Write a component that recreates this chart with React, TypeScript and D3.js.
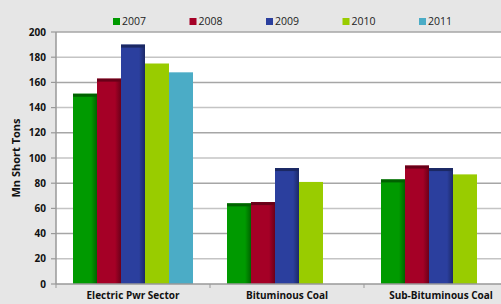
import * as d3 from "d3";

const categories = ["Electric Pwr Sector", "Bituminous Coal", "Sub-Bituminous Coal"];
const years = ["2007", "2008", "2009", "2010", "2011"];
const colors = ["#009a00", "#a50026", "#2b3f9e", "#99cc00", "#4bacc6"];
const shaded = [true, true, true, false, false];

// values per year, one entry per category (null = no bar)
const v2007 = [151, 64, 83];
const v2008 = [163, 65, 94];
const v2009 = [190, 92, 92];
const v2010 = [175, 81, 87];
const v2011 = [168, null, null];
const series = [v2007, v2008, v2009, v2010, v2011];

const yTicks = [0, 20, 40, 60, 80, 100, 120, 140, 160, 180, 200];

export default function App() {
  const width = 501;
  const height = 304;
  const marginLeft = 56;
  const marginTop = 32;
  const plotBottom = 284;
  const bandW = 154;

  const x = d3.scaleBand()
    .domain(categories)
    .range([marginLeft, marginLeft + bandW * categories.length])
    .paddingInner(0)
    .paddingOuter(0);

  const inner = d3.scaleBand()
    .domain(years)
    .range([17, bandW - 17]);

  const y = d3.scaleLinear().domain([0, 200]).range([plotBottom, marginTop]);

  const font = "'Open Sans', 'Liberation Sans', sans-serif";

  return (
    <svg width={width} height={height} style={{ position: "absolute", left: 0, top: 0 }}>
      <defs>
        {colors.map((c, i) => (
          <linearGradient key={i} id={`g${i}`} x1="0" x2="1" y1="0" y2="0">
            <stop offset="0" stopColor={c} />
            <stop offset={shaded[i] ? "0.75" : "1"} stopColor={c} />
            <stop offset="1" stopColor={shaded[i] ? d3.color(c)!.darker(1.2).toString() : c} />
          </linearGradient>
        ))}
      </defs>
      <rect x={0} y={0} width={width} height={height} fill="#e6e6e6" />
      <rect x={marginLeft} y={marginTop} width={width - marginLeft} height={plotBottom - marginTop} fill="#ffffff" />

      {/* gridlines */}
      {yTicks.filter(t => t > 0).map(t => (
        <line key={t} x1={marginLeft} x2={width} y1={y(t)} y2={y(t)}
          stroke={t % 40 === 0 ? "#a6a6a6" : "#c4c4c4"} strokeWidth={1.5} />
      ))}

      {/* bars */}
      {series.map((vals, si) =>
        vals.map((v, ci) => {
          if (v == null) return null;
          const bx = x(categories[ci])! + inner(years[si])!;
          const bw = inner.bandwidth();
          const by = y(v);
          return (
            <g key={`${si}-${ci}`}>
              <rect x={bx} y={by} width={bw} height={plotBottom - by} fill={`url(#g${si})`} />
              {shaded[si] && (
                <rect x={bx} y={by} width={bw} height={3}
                  fill={d3.color(colors[si])!.darker(1.3).toString()} />
              )}
            </g>
          );
        })
      )}

      {/* axes */}
      <line x1={marginLeft} x2={marginLeft} y1={marginTop} y2={plotBottom} stroke="#999" strokeWidth={1.5} />
      <line x1={marginLeft} x2={width} y1={plotBottom} y2={plotBottom} stroke="#999" strokeWidth={1.5} />
      {yTicks.map(t => (
        <g key={t}>
          <line x1={marginLeft - 5} x2={marginLeft} y1={y(t)} y2={y(t)} stroke="#999" strokeWidth={1.2} />
          <text x={marginLeft - 10} y={y(t)} dy="0.35em" textAnchor="end" fontFamily={font}
            fontWeight="bold" fontSize={10} fill="#111">{t}</text>
        </g>
      ))}
      {categories.map(c => (
        <g key={c}>
          <line x1={x(c)!} x2={x(c)!} y1={plotBottom} y2={plotBottom + 4} stroke="#999" />
          <text x={x(c)! + bandW / 2} y={299} textAnchor="middle" fontFamily={font}
            fontWeight="bold" fontSize={10} fill="#111">{c}</text>
        </g>
      ))}
      <text transform={`translate(20,${(marginTop + plotBottom) / 2}) rotate(-90)`} textAnchor="middle"
        fontFamily={font} fontWeight="bold" fontSize={11} fill="#111">Mn Short Tons</text>

      {/* legend */}
      {years.map((yr, i) => (
        <g key={yr} transform={`translate(${113 + i * 76.5},18)`}>
          <rect x={0} y={0} width={7} height={7} fill={colors[i]} />
          <text x={9} y={7} fontFamily={font} fontSize={10.5} fill="#222">{yr}</text>
        </g>
      ))}
    </svg>
  );
}
